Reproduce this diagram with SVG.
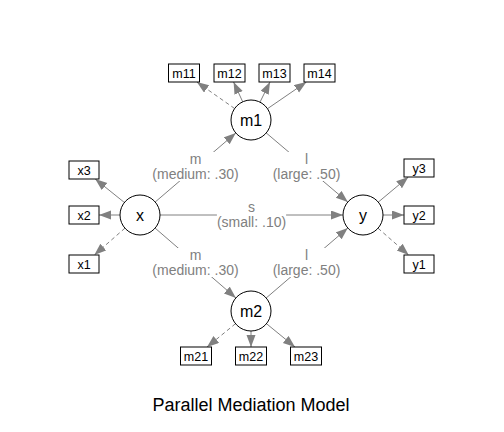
<svg xmlns="http://www.w3.org/2000/svg" width="504" height="432" viewBox="0 0 504 432">
<style>
.bg{fill:#ffffff}
.lat{fill:#ffffff;stroke:#000000;stroke-width:1}
.man{fill:#ffffff;stroke:#000000;stroke-width:1}
.nt{font-family:"Liberation Sans",Arial,sans-serif;font-size:16px;fill:#000000;text-anchor:middle}
.bt{font-family:"Liberation Sans",Arial,sans-serif;font-size:12.5px;fill:#000000;text-anchor:middle}
.e{stroke:#808080;stroke-width:1;fill:none;marker-end:url(#ah)}
.d{stroke-dasharray:4,3}
.lb{fill:#ffffff}
.lt{font-family:"Liberation Sans",Arial,sans-serif;font-size:14px;fill:#808080;text-anchor:middle}
.title{font-family:"Liberation Sans",Arial,sans-serif;font-size:18px;fill:#000000;text-anchor:middle}
</style>
<defs>
<marker id="ah" markerUnits="userSpaceOnUse" markerWidth="13" markerHeight="10" refX="12" refY="4.5" orient="auto" viewBox="0 0 13 10">
<path d="M0,0 L12,4.5 L0,9 z" fill="#808080"/>
</marker>
</defs>
<rect class="bg" x="0" y="0" width="504" height="432"/>
<g id="connectors">
<line class="e d" x1="234.6" y1="108.5" x2="196.8" y2="82"/>
<line class="e" x1="242.7" y1="101.8" x2="233.6" y2="82"/>
<line class="e" x1="260" y1="102.1" x2="270" y2="82"/>
<line class="e" x1="267.5" y1="108.7" x2="306.4" y2="82"/>
<line class="e" x1="124.4" y1="202.5" x2="95.2" y2="179"/>
<line class="e" x1="120" y1="215" x2="99" y2="215"/>
<line class="e d" x1="124.9" y1="228.2" x2="94.3" y2="255"/>
<line class="e" x1="378.3" y1="202.1" x2="408.3" y2="177"/>
<line class="e" x1="383" y1="215" x2="404" y2="215"/>
<line class="e d" x1="378" y1="228.2" x2="408.7" y2="255"/>
<line class="e d" x1="235.5" y1="323.7" x2="207" y2="347"/>
<line class="e" x1="251" y1="331" x2="251" y2="347"/>
<line class="e" x1="266.5" y1="323.7" x2="295" y2="347"/>
<line class="e" x1="155.2" y1="202" x2="235.8" y2="133"/>
<line class="e" x1="266.2" y1="132.9" x2="347.8" y2="202.1"/>
<line class="e" x1="160" y1="215" x2="343" y2="215"/>
<line class="e" x1="155.1" y1="228.1" x2="235.9" y2="297.9"/>
<line class="e" x1="266.2" y1="298" x2="347.8" y2="228"/>
<g id="edge-labels">
<rect class="lb" x="152.3" y="152" width="86.4" height="29"/>
<text class="lt" x="195.5" y="164">m</text>
<text class="lt" x="195.5" y="179">(medium: .30)</text>
<rect class="lb" x="271.5" y="152" width="70" height="29"/>
<text class="lt" x="306.5" y="164">l</text>
<text class="lt" x="306.5" y="179">(large: .50)</text>
<rect class="lb" x="216.9" y="200" width="69.2" height="29"/>
<text class="lt" x="251.5" y="212">s</text>
<text class="lt" x="251.5" y="227">(small: .10)</text>
<rect class="lb" x="152.3" y="248" width="86.4" height="29"/>
<text class="lt" x="195.5" y="260">m</text>
<text class="lt" x="195.5" y="275">(medium: .30)</text>
<rect class="lb" x="271.5" y="248" width="70" height="29"/>
<text class="lt" x="306.5" y="260">l</text>
<text class="lt" x="306.5" y="275">(large: .50)</text>
</g>
</g>
<g id="m1"><circle class="lat" cx="251" cy="120" r="20"/><text class="nt" x="251" y="126">m1</text></g>
<g id="m2"><circle class="lat" cx="251" cy="311" r="20"/><text class="nt" x="251" y="317">m2</text></g>
<g id="x"><circle class="lat" cx="140" cy="215" r="20"/><text class="nt" x="140" y="221">x</text></g>
<g id="y"><circle class="lat" cx="363" cy="215" r="20"/><text class="nt" x="363" y="221">y</text></g>
<g id="m11"><rect class="man" x="168.5" y="64" width="31" height="18"/><text class="bt" x="184" y="77.5">m11</text></g>
<g id="m12"><rect class="man" x="214" y="64" width="31" height="18"/><text class="bt" x="229.5" y="77.5">m12</text></g>
<g id="m13"><rect class="man" x="259" y="64" width="31" height="18"/><text class="bt" x="274.5" y="77.5">m13</text></g>
<g id="m14"><rect class="man" x="304" y="64" width="31" height="18"/><text class="bt" x="319.5" y="77.5">m14</text></g>
<g id="x3"><rect class="man" x="69" y="161" width="30" height="18"/><text class="bt" x="84" y="174.5">x3</text></g>
<g id="x2"><rect class="man" x="69" y="206" width="30" height="18"/><text class="bt" x="84" y="219.5">x2</text></g>
<g id="x1"><rect class="man" x="69" y="255" width="30" height="18"/><text class="bt" x="84" y="268.5">x1</text></g>
<g id="y3"><rect class="man" x="404" y="159" width="30" height="18"/><text class="bt" x="419" y="172.5">y3</text></g>
<g id="y2"><rect class="man" x="404" y="206" width="30" height="18"/><text class="bt" x="419" y="219.5">y2</text></g>
<g id="y1"><rect class="man" x="404" y="255" width="30" height="18"/><text class="bt" x="419" y="268.5">y1</text></g>
<g id="m21"><rect class="man" x="180.5" y="347" width="31" height="18"/><text class="bt" x="196" y="360.5">m21</text></g>
<g id="m22"><rect class="man" x="235.5" y="347" width="31" height="18"/><text class="bt" x="251" y="360.5">m22</text></g>
<g id="m23"><rect class="man" x="290.5" y="347" width="31" height="18"/><text class="bt" x="306" y="360.5">m23</text></g>
<text class="title" x="251" y="411">Parallel Mediation Model</text>
</svg>
